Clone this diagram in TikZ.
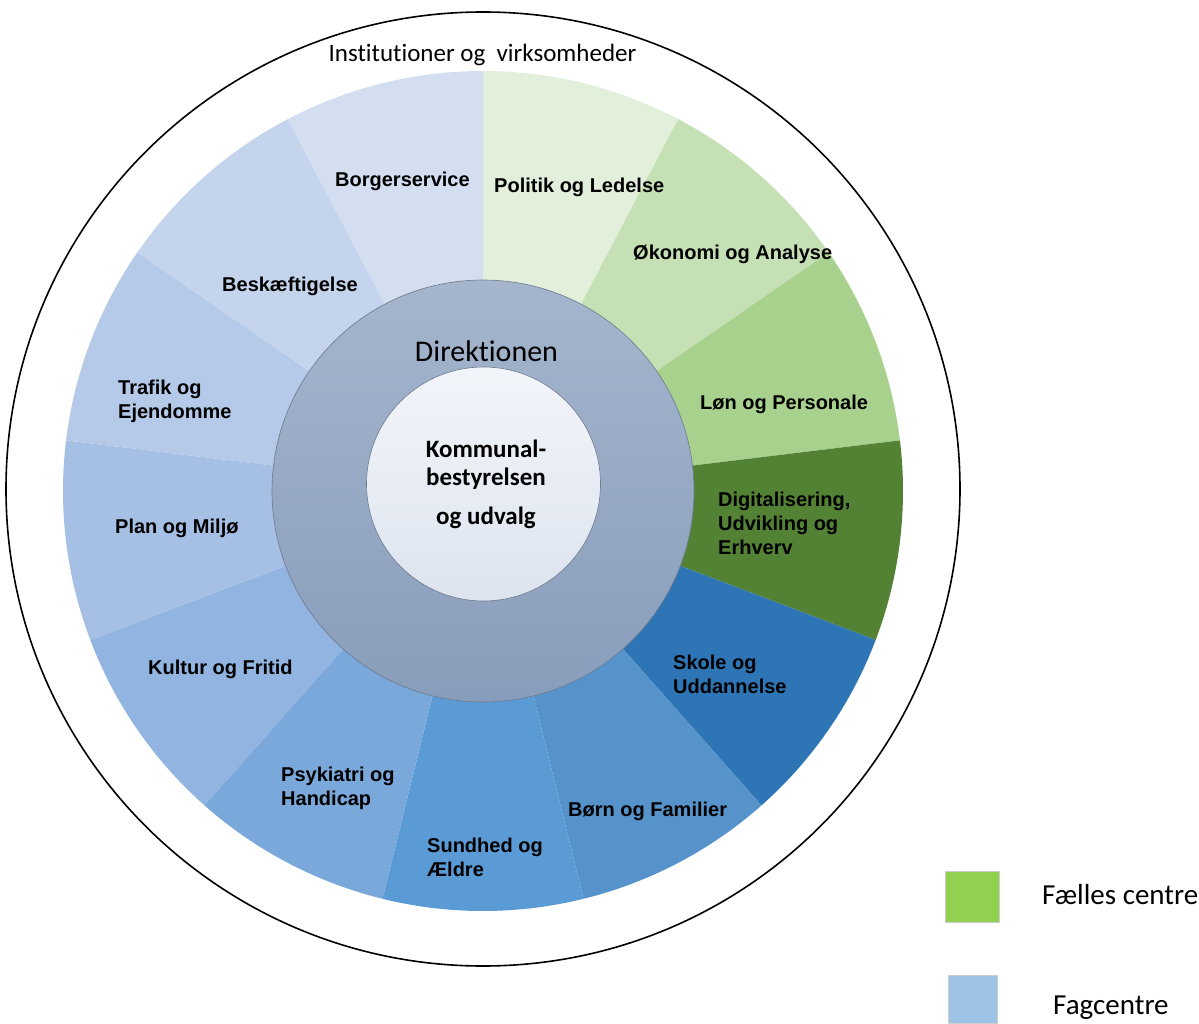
\documentclass[tikz,border=0pt]{standalone}
\usepackage{fontspec}
\setmainfont{Liberation Sans}
\newfontfamily\calfont[Ligatures=NoCommon]{Carlito}
\definecolor{cPol}{HTML}{E2EFDA}
\definecolor{cOek}{HTML}{C5E0B4}
\definecolor{cLoen}{HTML}{A9D18E}
\definecolor{cDig}{HTML}{548235}
\definecolor{cSko}{HTML}{2E75B6}
\definecolor{cBoe}{HTML}{5693CB}
\definecolor{cSun}{HTML}{5B9BD5}
\definecolor{cPsy}{HTML}{7BA8DA}
\definecolor{cKul}{HTML}{92B4E0}
\definecolor{cPla}{HTML}{A5C0E4}
\definecolor{cTra}{HTML}{B5C9E8}
\definecolor{cBes}{HTML}{C4D4EC}
\definecolor{cBor}{HTML}{D3DFF0}
\definecolor{dirTop}{HTML}{A5B5CD}
\definecolor{dirBot}{HTML}{889DBB}
\definecolor{dirLine}{HTML}{6E7A8C}
\definecolor{inTop}{HTML}{F2F5FA}
\definecolor{inBot}{HTML}{DDE4EF}
\definecolor{legGreen}{HTML}{92D050}
\definecolor{legBlue}{HTML}{9DC3E6}
\begin{document}
\begin{tikzpicture}[x=1pt,y=1pt,
  lab/.style={font=\bfseries\fontsize{20}{24}\selectfont, align=left, inner sep=0pt, anchor=base west},
  legtext/.style={font=\calfont\fontsize{29}{34}\selectfont, inner sep=0pt, anchor=base west},
  legbox/.style={draw=black!20, line width=0.6pt}]
\useasboundingbox (-483,-534) rectangle (716,489);
\coordinate (C) at (0,-2);
% outer circle
\draw[line width=1.6pt] (0,0) circle[radius=477pt];
% wedges
\foreach \i/\col in {0/cPol,1/cOek,2/cLoen,3/cDig,4/cSko,5/cBoe,6/cSun,7/cPsy,8/cKul,9/cPla,10/cTra,11/cBes,12/cBor}{
  \pgfmathsetmacro{\aS}{90-\i*360/13}
  \pgfmathsetmacro{\aE}{90-(\i+1)*360/13}
  \fill[\col] (C) -- ++(\aS:420pt) arc[start angle=\aS, end angle=\aE, radius=420pt] -- cycle;
}
% Direktionen ring
\shadedraw[top color=dirTop, bottom color=dirBot, draw=dirLine, line width=0.6pt] (C) circle[radius=211pt];
% inner circle
\shadedraw[top color=inTop, bottom color=inBot, draw=dirLine, line width=0.6pt] (0.5,5) circle[radius=117pt];
% texts
\node[font=\calfont\fontsize{25}{30}\selectfont, inner sep=0pt, anchor=base] (inst) at (-0.5,427) {Institutioner og\ \ virksomheder};
\node[font=\calfont\fontsize{30}{36}\selectfont, inner sep=0pt, anchor=base] (dir) at (3.5,128) {Direktionen};
\node[font=\calfont\bfseries\fontsize{25}{28}\selectfont, align=center, inner sep=0pt, anchor=base] (kb) at (3,-35) {Kommunal-\\bestyrelsen\\[11pt]og udvalg};
\node[lab] (pol) at (11,296) {Politik og Ledelse};
\node[lab] (oek) at (150,229) {Økonomi og Analyse};
\node[lab] (loen) at (217,80) {Løn og Personale};
\node[lab] (dig) at (235,-65) {Digitalisering,\\Udvikling og\\Erhverv};
\node[lab] (sko) at (190,-204) {Skole og\\Uddannelse};
\node[lab] (boe) at (85,-327) {Børn og Familier};
\node[lab] (sun) at (-56,-387) {Sundhed og\\Ældre};
\node[lab] (psy) at (-202,-316) {Psykiatri og\\Handicap};
\node[lab] (kul) at (-335,-185) {Kultur og Fritid};
\node[lab] (pla) at (-368,-44) {Plan og Miljø};
\node[lab] (tra) at (-365,71) {Trafik og\\Ejendomme};
\node[lab] (bes) at (-261,197) {Beskæftigelse};
\node[lab] (bor) at (-148,302) {Borgerservice};
% legend
\fill[legGreen, legbox] (462,-382) rectangle (516,-433);
\fill[legBlue, legbox] (465,-486) rectangle (514,-534);
\node[legtext] (lg1) at (559,-415) {Fælles centre};
\node[legtext] (lg2) at (570,-525) {Fagcentre};
\end{tikzpicture}
\end{document}
